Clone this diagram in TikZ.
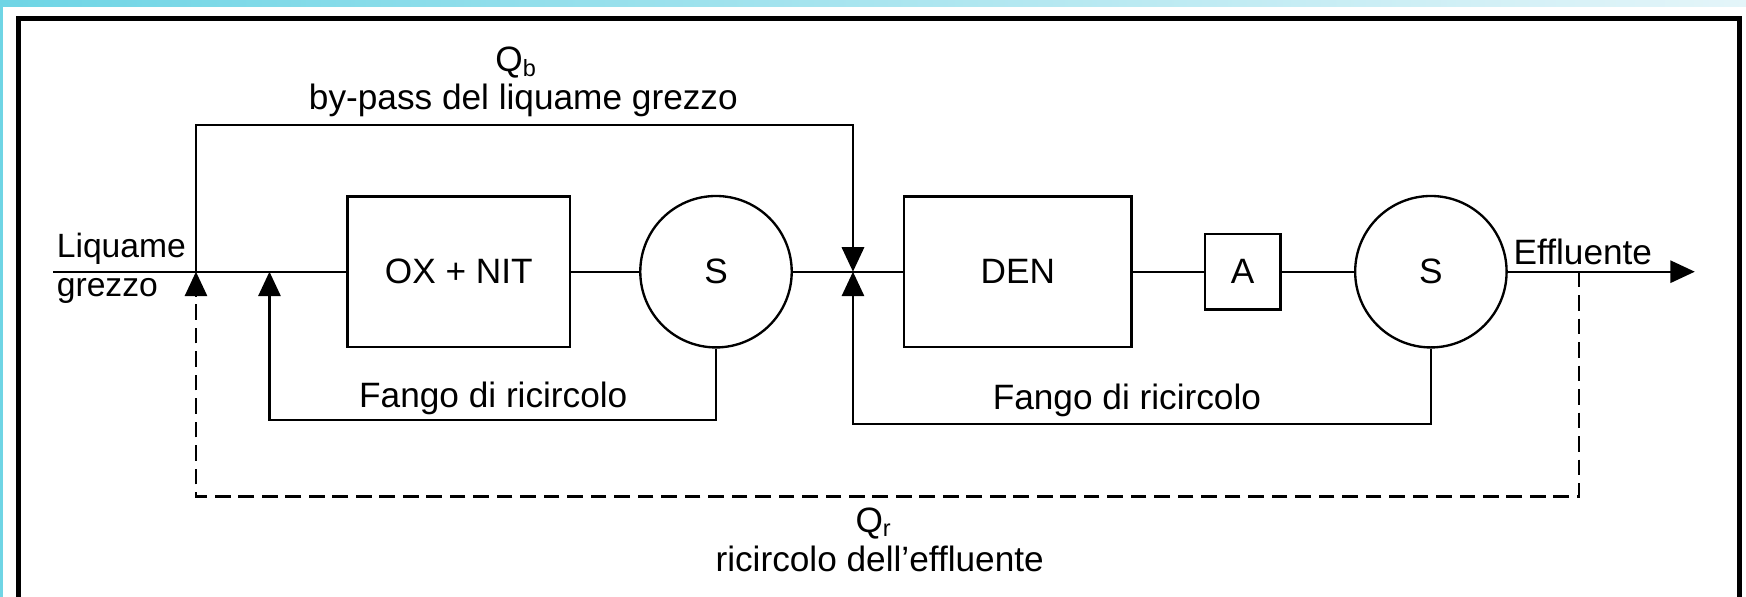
\documentclass[tikz,border=0pt]{standalone}
\usepackage{fontspec}
\setmainfont{Liberation Sans}
\usetikzlibrary{arrows.meta,positioning}
\definecolor{band}{HTML}{6FD5E5}
\definecolor{bandlight}{HTML}{E4F5F9}

\begin{document}
\begin{tikzpicture}[>={Triangle[length=0.22cm,width=0.2cm]},line width=0.6pt,
 font=\fontsize{9}{11}\selectfont,
 box/.style={draw,minimum width=2cm,minimum height=1.35cm,inner sep=0pt},
 sep/.style={draw,circle,minimum size=1.36cm,inner sep=0pt},
 lbl/.style={inner sep=1.5pt},
 effl/.style={dash pattern=on 4pt off 2pt}]
\useasboundingbox (0,0) rectangle (15.68,5.36);
\clip (0,0) rectangle (15.68,5.36);
\fill[white] (0,0) rectangle (15.68,5.36);
\fill[band] (0,0) rectangle (0.03,5.36);
\shade[left color=band,right color=bandlight] (0,5.30) rectangle (15.68,5.36);
\draw[line width=1.3pt] (0.17,-0.2) -- (0.17,5.19) -- (15.62,5.19) -- (15.62,-0.2);

\node[box] (ox) at (4.12,2.92) {OX + NIT};
\node[sep] (s1) at (6.43,2.92) {S};
\node[box,minimum width=2.04cm] (den) at (9.14,2.92) {DEN};
\node[box,minimum width=0.68cm,minimum height=0.68cm] (a) at (11.16,2.92) {A};
\node[sep] (s2) at (12.85,2.92) {S};

\coordinate (in) at (0.48,2.92);
\coordinate (j1) at (1.76,2.92);
\coordinate (j2) at (2.42,2.92);
\coordinate (j3) at (7.66,2.92);
\coordinate (j4) at (14.18,2.92);
\coordinate (out) at (15.22,2.92);
\coordinate (bp) at (7.66,4.24);
\coordinate (r1) at (2.42,1.59);
\coordinate (r2) at (7.66,1.55);
\coordinate (q1) at (1.76,0.90);

\draw (in) -- (ox);
\draw (ox) -- (s1);
\draw (s1) -- (den);
\draw (den) -- (a);
\draw (a) -- (s2);
\draw[->] (s2) -- (out);
\draw[->] (j1) |- (bp) -- (j3);
\draw[->] (s1) |- (r1) -- (j2);
\draw[->] (s2) |- (r2) -- (j3);
\draw[effl,->] (j4) |- (q1) -- (j1);

\node[lbl,inner xsep=0pt,anchor=south west,font=\fontsize{8.6}{10}\selectfont] (liq) at (0.50,2.92) {Liquame};
\node[lbl,inner xsep=0pt,anchor=north west,font=\fontsize{8.6}{10}\selectfont] (grz) at (0.50,2.92) {grezzo};
\node[lbl,anchor=south west] (eff) at (13.53,2.92) {Effluente};
\node[lbl] (qb) at (4.64,4.80) {Q\textsubscript{b}};
\node[lbl] (bplbl) at (4.70,4.46) {by-pass del liquame grezzo};
\node[lbl] (fr1) at (4.43,1.78) {Fango di ricircolo};
\node[lbl] (fr2) at (10.12,1.76) {Fango di ricircolo};
\node[lbl] (qr) at (7.85,0.66) {Q\textsubscript{r}};
\node[lbl] (rel) at (7.90,0.34) {ricircolo dell'effluente};
\end{tikzpicture}
\end{document}
